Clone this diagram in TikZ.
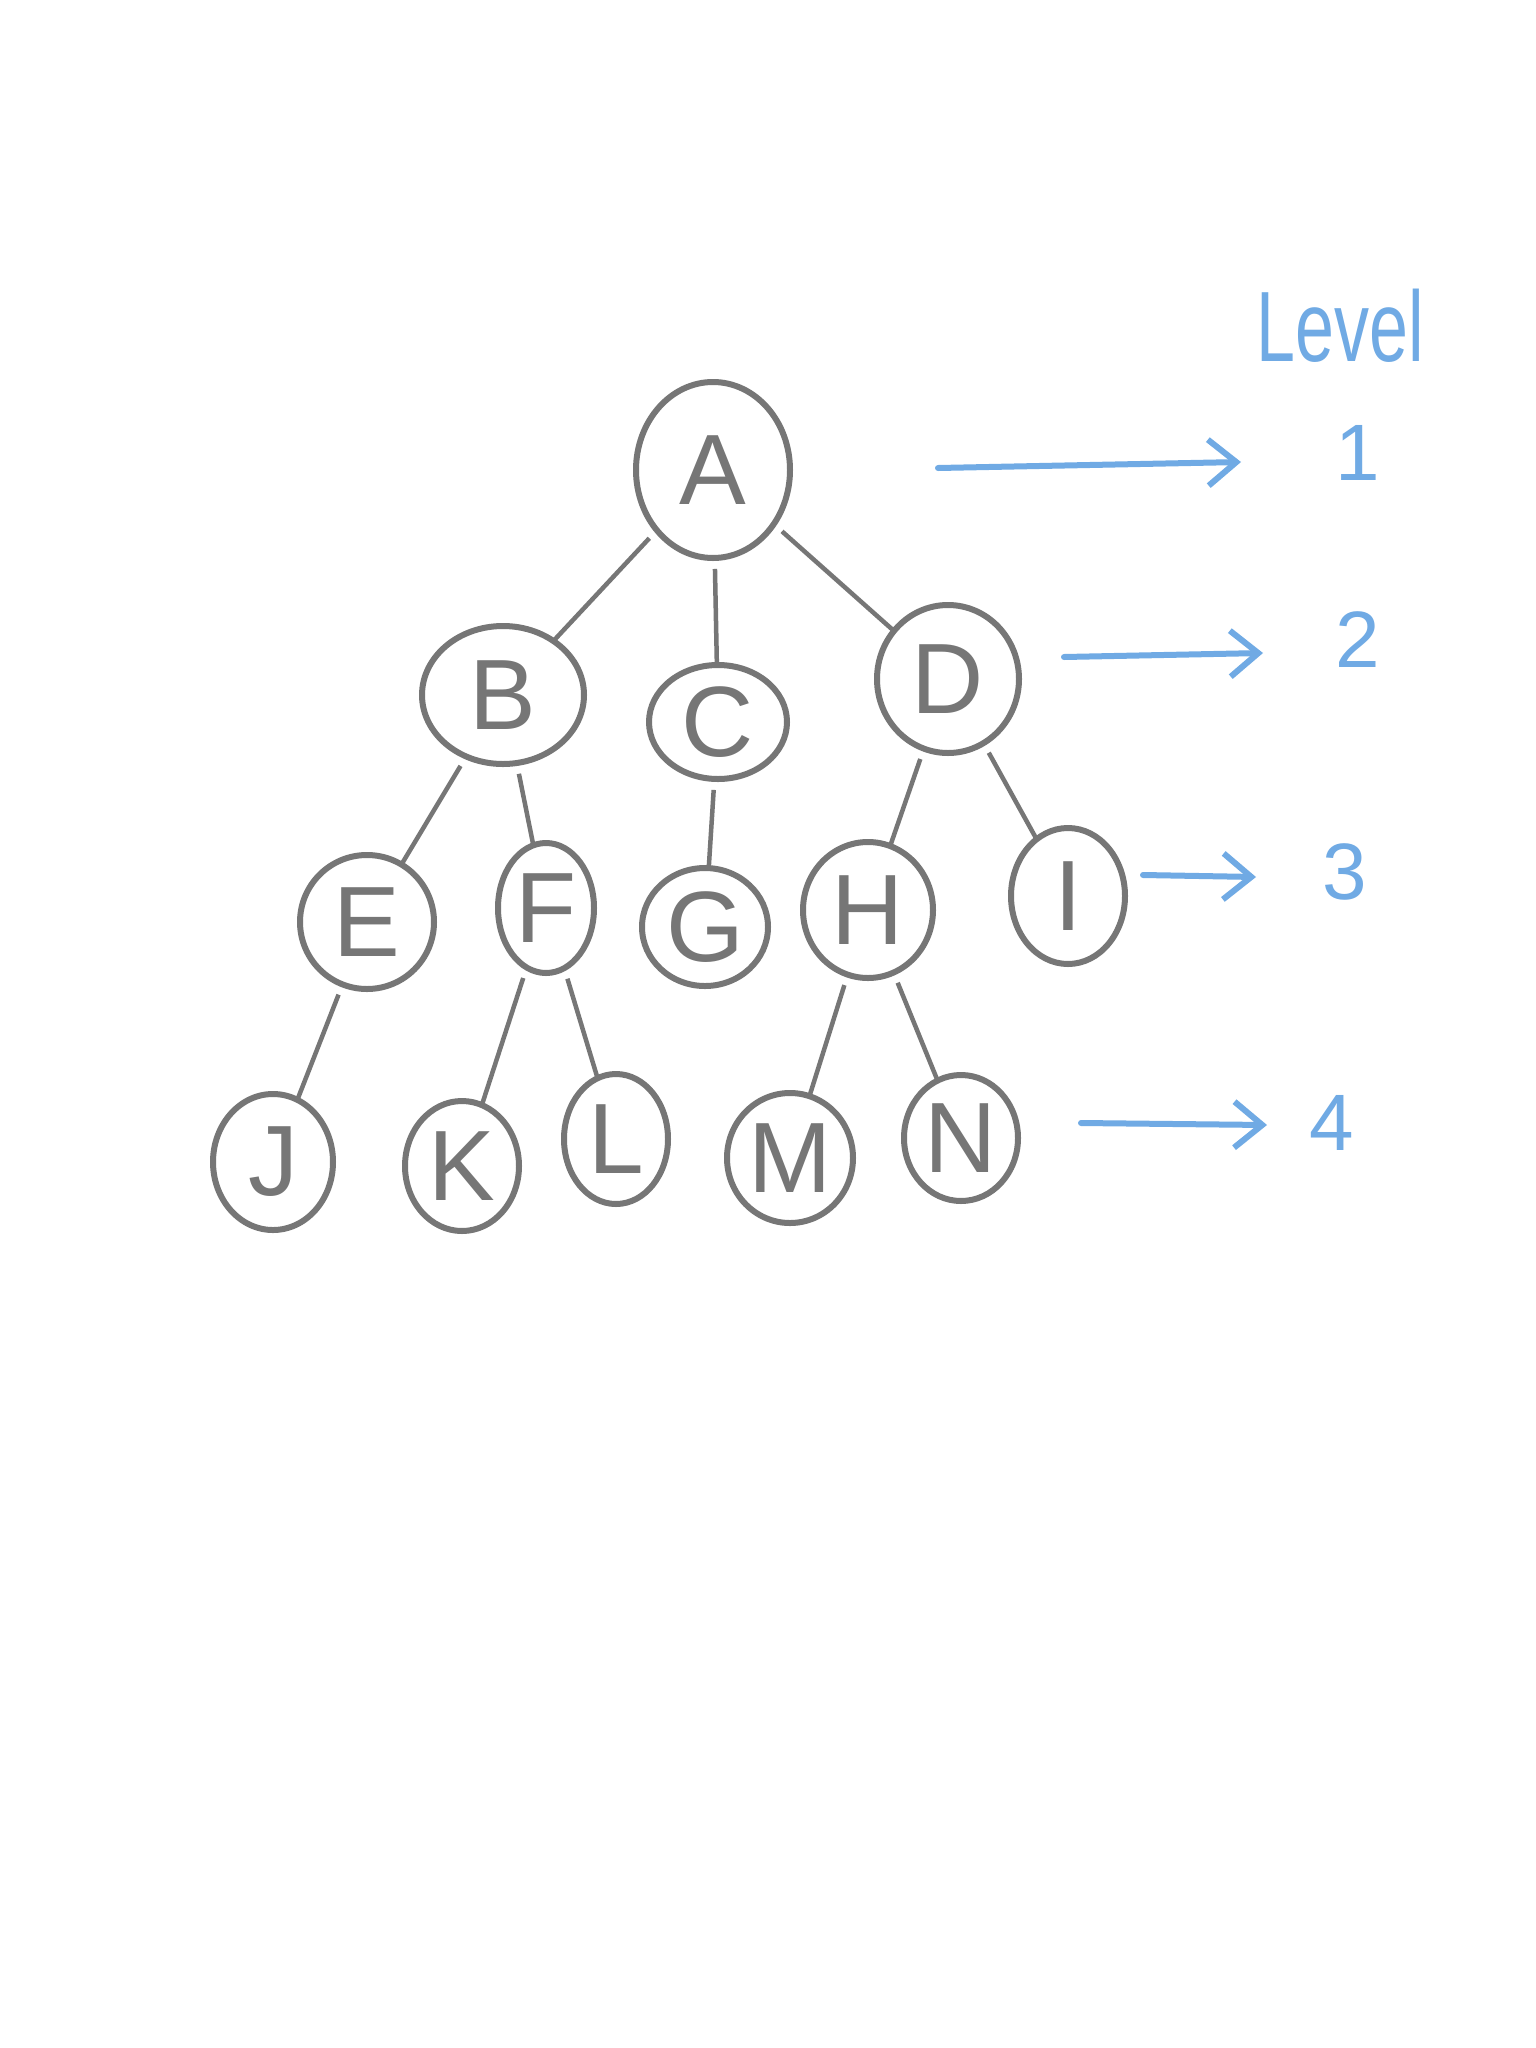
\documentclass[tikz,border=0pt]{standalone}
\usepackage{fontspec}
\setmainfont{Liberation Sans}
\usetikzlibrary{shapes.geometric,arrows.meta}
\definecolor{pencil}{RGB}{118,118,118}
\definecolor{bluepen}{RGB}{112,170,228}
\begin{document}
\begin{tikzpicture}[x=1pt,y=-1pt,
  vtx/.style={ellipse,draw=pencil,line width=6pt,inner sep=0pt,text=pencil,
    font=\fontsize{100}{100}\selectfont},
  edge/.style={draw=pencil,line width=4.5pt,shorten <=8pt,shorten >=-2pt},
  lvl/.style={draw=bluepen,line width=6pt,line cap=round,
    -{Straight Barb[length=28pt,width=46pt,line width=6pt]}},
  num/.style={text=bluepen,font=\fontsize{80}{80}\selectfont}]
\fill[white] (0,0) rectangle (1536,2048);
\useasboundingbox (0,0) rectangle (1536,2048);
% tree nodes
\node[vtx,minimum width=154,minimum height=176] (A) at (713,470) {A};
\node[vtx,minimum width=162,minimum height=138] (B) at (503,695) {B};
\node[vtx,minimum width=138,minimum height=114] (C) at (718,722) {C};
\node[vtx,minimum width=142,minimum height=148] (D) at (948,679) {D};
\node[vtx,minimum width=134,minimum height=134] (E) at (367,922) {E};
\node[vtx,minimum width=96,minimum height=130] (F) at (546,908) {F};
\node[vtx,minimum width=126,minimum height=118] (G) at (705,927) {G};
\node[vtx,minimum width=130,minimum height=136] (H) at (868,910) {H};
\node[vtx,minimum width=114,minimum height=136] (I) at (1068,896) {I};
\node[vtx,minimum width=120,minimum height=136] (J) at (273,1162) {J};
\node[vtx,minimum width=114,minimum height=130] (K) at (462,1166) {K};
\node[vtx,minimum width=104,minimum height=130] (L) at (616,1139) {L};
\node[vtx,minimum width=126,minimum height=130] (M) at (790,1158) {M};
\node[vtx,minimum width=114,minimum height=126] (N) at (961,1138) {N};
% tree edges
\draw[edge] (A) -- (B);
\draw[edge] (A) -- (C);
\draw[edge] (A) -- (D);
\draw[edge] (B) -- (E);
\draw[edge] (B) -- (F);
\draw[edge] (C) -- (G);
\draw[edge] (D) -- (H);
\draw[edge] (D) -- (I);
\draw[edge] (E) -- (J);
\draw[edge] (F) -- (K);
\draw[edge] (F) -- (L);
\draw[edge] (H) -- (M);
\draw[edge] (H) -- (N);
% level labels
\node[text=bluepen,font=\fontsize{100}{100}\selectfont] (lv) at (1340,326) {\scalebox{0.7}[1]{Level}};
\node[num] (n1) at (1358,453) {1};
\node[num] (n2) at (1358,640) {2};
\node[num] (n3) at (1345,872) {3};
\node[num] (n4) at (1332,1123) {4};
% level arrows
\coordinate (s1) at (938,468);  \coordinate (e1) at (1241,462);
\coordinate (s2) at (1064,657); \coordinate (e2) at (1263,653);
\coordinate (s3) at (1143,875); \coordinate (e3) at (1256,877);
\coordinate (s4) at (1081,1123); \coordinate (e4) at (1267,1125);
\draw[lvl] (s1) -- (e1);
\draw[lvl] (s2) -- (e2);
\draw[lvl] (s3) -- (e3);
\draw[lvl] (s4) -- (e4);
\end{tikzpicture}
\end{document}
